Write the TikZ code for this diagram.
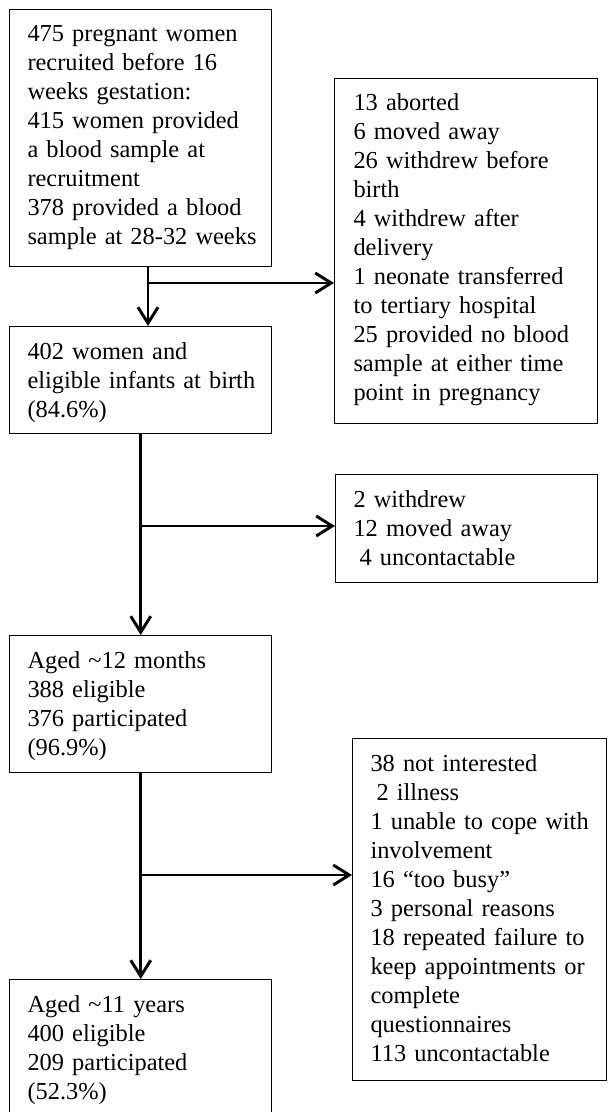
\documentclass[tikz,border=0pt]{standalone}
\usepackage{fontspec}
\setmainfont{Liberation Serif}
\usetikzlibrary{arrows.meta}

\tikzset{every picture/.style={line width=0.75pt}}
\tikzset{
  box/.style={draw=black, line width=1.1pt, rectangle, inner sep=0pt, anchor=north west},
  txt/.style={anchor=base west, inner sep=0pt, align=left, text width=175pt,
    font=\fontsize{18.3}{21.75}\selectfont},
  flow/.style={line width=2.2pt, -{Straight Barb[length=12pt,width=15pt]}}
}

\begin{document}
\begin{tikzpicture}[x=0.75pt,y=0.75pt,yscale=-1,xscale=1]
\useasboundingbox (0,0) rectangle (607,1112);
\clip (0,0) rectangle (607,1112);

%Boxes, left column
\node[box, minimum width=196.5pt, minimum height=192.75pt] (recruit) at (9,9) {};
\node[box, minimum width=196.5pt, minimum height=80.25pt] (birth) at (9,326) {};
\node[box, minimum width=196.5pt, minimum height=102.75pt] (month12) at (9,635) {};
\node[box, minimum width=196.5pt, minimum height=120pt] (year11) at (9,979) {};
%Boxes, right column
\node[box, minimum width=197.25pt, minimum height=258.75pt] (lossbirth) at (334,78) {};
\node[box, minimum width=196.5pt, minimum height=81pt] (lossmonth12) at (335,474) {};
\node[box, minimum width=190.5pt, minimum height=256.5pt] (lossyear11) at (352,738) {};

% Text Node
\node[txt] (recruit-txt) at ([shift={(18,33)}]recruit.north west) {475 pregnant women\\recruited before 16\\weeks gestation:\\415 women provided\\a blood sample at\\recruitment\\378 provided a blood\\sample at 28-32 weeks};
% Text Node
\node[txt] (birth-txt) at ([shift={(18,33)}]birth.north west) {402 women and\\eligible infants at birth\\(84.6\%)};
% Text Node
\node[txt] (month12-txt) at ([shift={(18,33)}]month12.north west) {Aged \textasciitilde12 months\\388 eligible\\376 participated\\(96.9\%)};
% Text Node
\node[txt] (year11-txt) at ([shift={(18,33)}]year11.north west) {Aged \textasciitilde11 years\\400 eligible\\209 participated\\(52.3\%)};
% Text Node
\node[txt] (lossbirth-txt) at ([shift={(19,33)}]lossbirth.north west) {13 aborted\\6 moved away\\26 withdrew before\\birth\\4 withdrew after\\delivery\\1 neonate transferred\\to tertiary hospital\\25 provided no blood\\sample at either time\\point in pregnancy};
% Text Node
\node[txt] (lossmonth12-txt) at ([shift={(18,33)}]lossmonth12.north west) {2 withdrew\\12 moved away\\\hspace*{4.5pt}4 uncontactable};
% Text Node
\node[txt] (lossyear11-txt) at ([shift={(18,33)}]lossyear11.north west) {38 not interested\\\hspace*{4.5pt}2 illness\\1 unable to cope with\\involvement\\16 “too busy”\\3 personal reasons\\18 repeated failure to\\keep appointments or\\complete\\questionnaires\\113 uncontactable};

%Junctions
\coordinate (j1) at (148,283);
\coordinate (j2) at (140,526);
\coordinate (j3) at (140,875);

%Straight Lines
\draw[flow] (recruit.south -| j1) -- (birth.north -| j1);
\draw[flow] (j1) -- (j1 -| lossbirth.west);
%Straight Lines
\draw[flow] (birth.south) -- (month12.north);
\draw[flow] (j2) -- (j2 -| lossmonth12.west);
%Straight Lines
\draw[flow] (month12.south) -- (year11.north);
\draw[flow] (j3) -- (j3 -| lossyear11.west);

\end{tikzpicture}
\end{document}
